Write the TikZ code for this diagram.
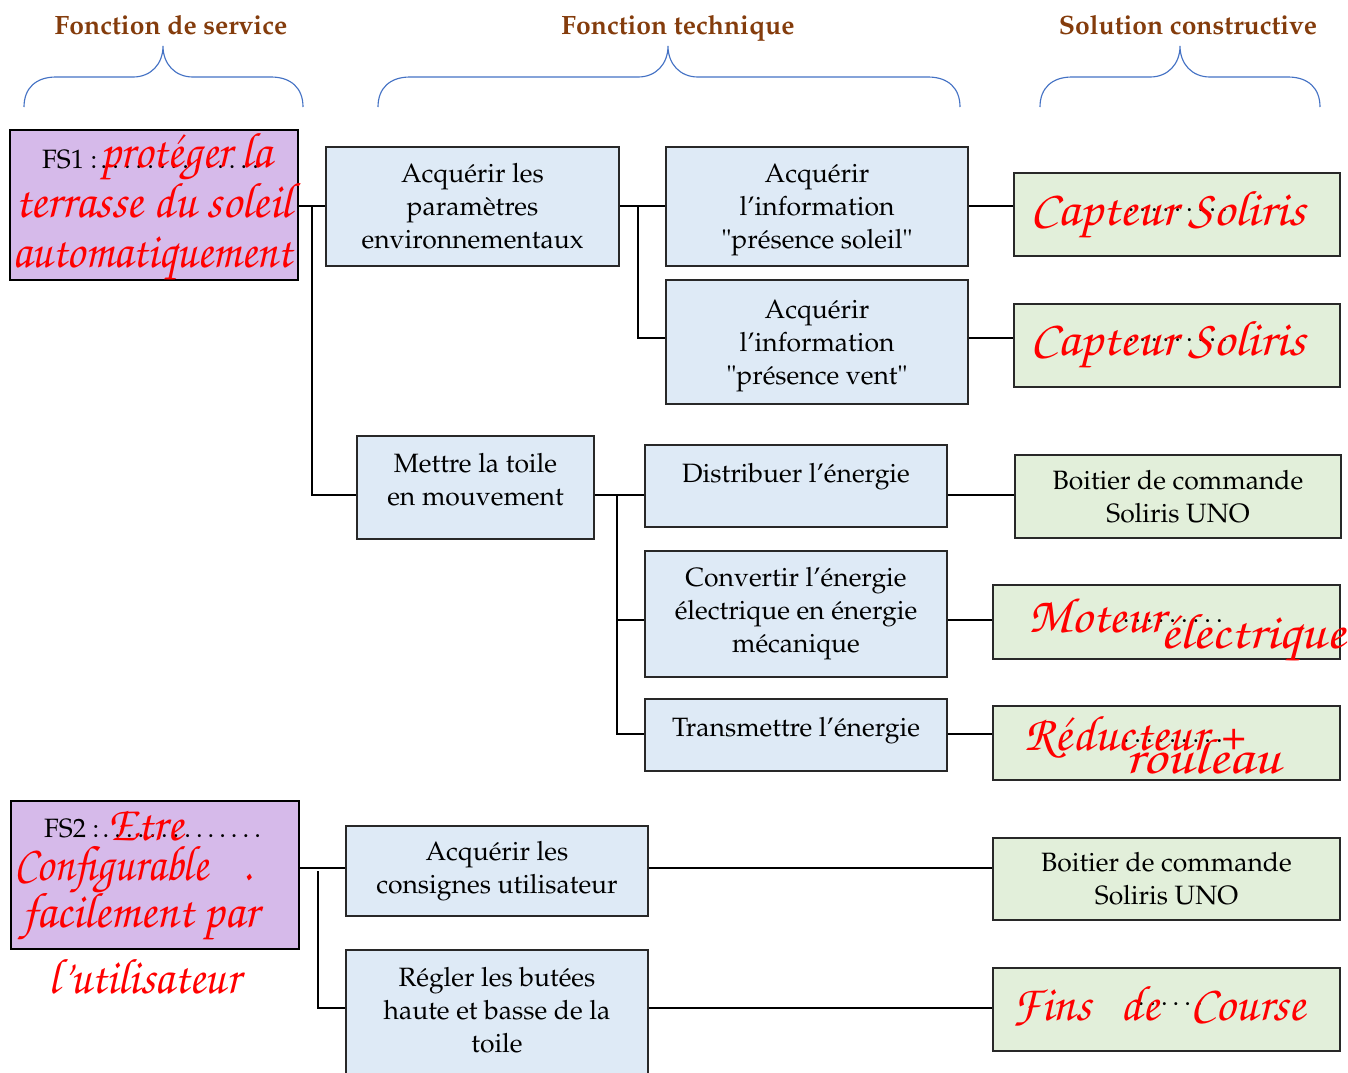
\documentclass[tikz,border=0pt]{standalone}
\usepackage[T1,TU]{fontenc}
\usepackage{graphicx}

\definecolor{fslilac}{RGB}{214,186,234}
\definecolor{ftblue}{RGB}{222,234,246}
\definecolor{scgreen}{RGB}{226,239,218}
\definecolor{headbrown}{RGB}{132,60,12}
\definecolor{braceblue}{RGB}{68,114,196}
\definecolor{boxgrey}{RGB}{40,40,40}

\newcommand{\palatino}{\fontencoding{T1}\fontfamily{ppl}\selectfont}
\newcommand{\scribble}{\fontencoding{T1}\fontfamily{pzc}\fontseries{mb}\fontshape{it}\selectfont}
% stretch a handwritten line to the width it takes on the sheet
\newcommand{\scrawl}[2]{\resizebox{#1}{\height}{#2}}

\begin{document}
\begin{tikzpicture}[x=1pt, y=-1pt, font=\palatino\fontsize{26.5}{33}\selectfont]
  \tikzstyle{fs_block} = [rectangle, draw=black, fill=fslilac, line width=0.7mm, inner sep=0pt]
  \tikzstyle{ft_block} = [rectangle, draw=boxgrey, fill=ftblue, line width=0.6mm, align=center, inner sep=0pt]
  \tikzstyle{sc_block} = [rectangle, draw=boxgrey, fill=scgreen, line width=0.6mm, align=center, inner sep=0pt]
  \tikzstyle{heading} = [text=headbrown, anchor=base, font=\palatino\bfseries\fontsize{26.5}{30}\selectfont]
  \tikzstyle{hand} = [text=red, anchor=base west, inner sep=0pt, font=\scribble\fontsize{50}{50}\selectfont]
  \tikzstyle{dotline} = [anchor=base west, inner sep=0pt]
  \tikzstyle{link} = [-, line width=0.6mm]
  \tikzstyle{curly} = [-, line width=0.4mm, draw=braceblue]

  \useasboundingbox (0,0) rectangle (1348,1072);

  % column titles and their braces
  \node [heading] at (171,34) (head_fs) {Fonction de service};
  \node [heading] at (678,34) (head_ft) {Fonction technique};
  \node [heading] at (1188,34) (head_sc) {Solution constructive};

  \foreach \xl/\xm/\xr in {24/163/303, 378/668/960, 1040/1180/1320}
    \draw[curly] (\xl,107) .. controls (\xl,88) and (\xl+12,77) .. (\xl+32,77) -- (\xm-30,77)
      .. controls (\xm-12,77) and (\xm,64) .. (\xm,46)
      .. controls (\xm,64) and (\xm+12,77) .. (\xm+30,77) -- (\xr-32,77)
      .. controls (\xr-12,77) and (\xr,88) .. (\xr,107);

  % boxes
  \node [fs_block, minimum width=288pt, minimum height=150pt] at (154,205) (fs_one) {};
  \node [ft_block, minimum width=293pt, minimum height=119pt] at (472.5,206.5) (acq_env) {Acquérir les\\paramètres\\environnementaux};
  \node [ft_block, minimum width=302pt, minimum height=119pt, text depth=0pt] at (817,206.5) (info_sun) {Acquérir\\l'information\\"présence soleil"};
  \node [ft_block, minimum width=302pt, minimum height=124pt, text depth=0pt] at (817,342) (info_wind) {Acquérir\\l'information\\"présence vent"};
  \node [sc_block, minimum width=326pt, minimum height=83pt] at (1177,214.5) (sensor_sun) {};
  \node [sc_block, minimum width=326pt, minimum height=83pt] at (1177,345.5) (sensor_wind) {};
  \node [ft_block, minimum width=237pt, minimum height=103pt, text depth=16pt] at (475.5,487.5) (move_toile) {Mettre la toile\\en mouvement};
  \node [ft_block, minimum width=302pt, minimum height=82pt, text depth=27pt] at (796,486) (distrib) {Distribuer l'énergie};
  \node [ft_block, minimum width=302pt, minimum height=126pt] at (796,614) (convert) {Convertir l'énergie\\électrique en énergie\\mécanique};
  \node [ft_block, minimum width=302pt, minimum height=72pt, text depth=17pt] at (796,735) (transmit) {Transmettre l'énergie};
  \node [sc_block, minimum width=326pt, minimum height=83pt] at (1178,496.5) (control_box) {Boitier de commande\\Soliris UNO};
  \node [sc_block, minimum width=347pt, minimum height=74pt] at (1166.5,622) (motor) {};
  \node [sc_block, minimum width=347pt, minimum height=74pt] at (1166.5,743) (gear) {};
  \node [fs_block, minimum width=288pt, minimum height=148pt] at (155,875) (fs_two) {};
  \node [ft_block, minimum width=302pt, minimum height=90pt] at (497,871) (acq_user) {Acquérir les\\consignes utilisateur};
  \node [ft_block, minimum width=302pt, minimum height=126pt, text depth=6pt] at (497,1013) (set_stops) {Régler les butées\\haute et basse de la\\toile};
  \node [sc_block, minimum width=347pt, minimum height=82pt] at (1166.5,879) (control_box2) {Boitier de commande\\Soliris UNO};
  \node [sc_block, minimum width=347pt, minimum height=83pt] at (1166.5,1009.5) (limit_sw) {};

  % branching points
  \coordinate (fork_fs1) at (312,206);
  \coordinate (fork_env) at (638,206);
  \coordinate (row_wind) at (638,338);
  \coordinate (fork_move) at (617,495);
  \coordinate (row_convert) at (617,620);
  \coordinate (row_transmit) at (617,734);
  \coordinate (row_user) at (318,868);
  \coordinate (fork_fs2) at (318,871);
  \coordinate (row_stops) at (318,1008);

  \draw[link] (fs_one.east |- fork_fs1) -- (acq_env.west |- fork_fs1);
  \draw[link] (fork_fs1) |- (move_toile.west |- fork_move);
  \draw[link] (acq_env.east |- fork_env) -- (info_sun.west |- fork_env);
  \draw[link] (fork_env) -- (row_wind) -- (info_wind.west |- row_wind);
  \draw[link] (info_sun.east |- fork_env) -- (sensor_sun.west |- fork_env);
  \draw[link] (info_wind.east |- row_wind) -- (sensor_wind.west |- row_wind);
  \draw[link] (move_toile.east |- fork_move) -- (distrib.west |- fork_move);
  \draw[link] (fork_move) |- (transmit.west |- row_transmit);
  \draw[link] (row_convert) -- (convert.west |- row_convert);
  \draw[link] (distrib.east |- fork_move) -- (control_box.west |- fork_move);
  \draw[link] (convert.east |- row_convert) -- (motor.west |- row_convert);
  \draw[link] (transmit.east |- row_transmit) -- (gear.west |- row_transmit);
  \draw[link] (fs_two.east |- row_user) -- (acq_user.west |- row_user);
  \draw[link] (fork_fs2) |- (set_stops.west |- row_stops);
  \draw[link] (acq_user.east |- row_user) -- (control_box2.west |- row_user);
  \draw[link] (set_stops.east |- row_stops) -- (limit_sw.west |- row_stops);

  % printed dotted lines
  \node [dotline] at (42,168) (fs1_head) {FS1 :\makebox[165pt]{\dotfill}};
  \node [dotline] at (44,837) (fs2_head) {FS2 :\makebox[165pt]{\dotfill}};
  \node [dotline] at (1125,211) (sun_dots) {\makebox[105pt]{\dotfill}};
  \node [dotline] at (1125,341) (wind_dots) {\makebox[105pt]{\dotfill}};
  \node [dotline] at (1120,622) (motor_dots) {\makebox[105pt]{\dotfill}};
  \node [dotline] at (1120,742) (gear_dots) {\makebox[105pt]{\dotfill}};
  \node [dotline] at (1130,1005) (limit_dots) {\makebox[80pt]{\dotfill}};

  % handwritten answers
  \node [hand] at (100,167) (fs1_l1) {\scrawl{172pt}{protéger la}};
  \node [hand] at (15,217) (fs1_l2) {\scrawl{277pt}{terrasse du soleil}};
  \node [hand] at (12,267) (fs1_l3) {\scrawl{280pt}{automatiquement}};
  \node [hand] at (108,840) (fs2_l1) {\scrawl{75pt}{Etre}};
  \node [hand] at (14,880) (fs2_l2) {\scrawl{238pt}{Configurable\hspace{40pt}.}};
  \node [hand] at (22,927) (fs2_l3) {\scrawl{236pt}{facilement par}};
  \node [hand] at (48,993) (fs2_l4) {\scrawl{192pt}{l'utilisateur}};
  \node [hand] at (1030,225) (sun_txt) {\scrawl{275pt}{Capteur Soliris}};
  \node [hand] at (1030,355) (wind_txt) {\scrawl{275pt}{Capteur Soliris}};
  \node [hand] at (1028,632) (motor_l1) {\scrawl{137pt}{Moteur}};
  \node [hand] at (1160,648) (motor_l2) {\scrawl{185pt}{électrique}};
  \node [hand] at (1024,750) (gear_l1) {\scrawl{221pt}{Réducteur +}};
  \node [hand] at (1125,773) (gear_l2) {\scrawl{155pt}{rouleau}};
  \node [hand] at (1012,1020) (limit_txt) {\scrawl{293pt}{Fins\hspace{30pt}de\hspace{32pt}Course}};
\end{tikzpicture}
\end{document}
